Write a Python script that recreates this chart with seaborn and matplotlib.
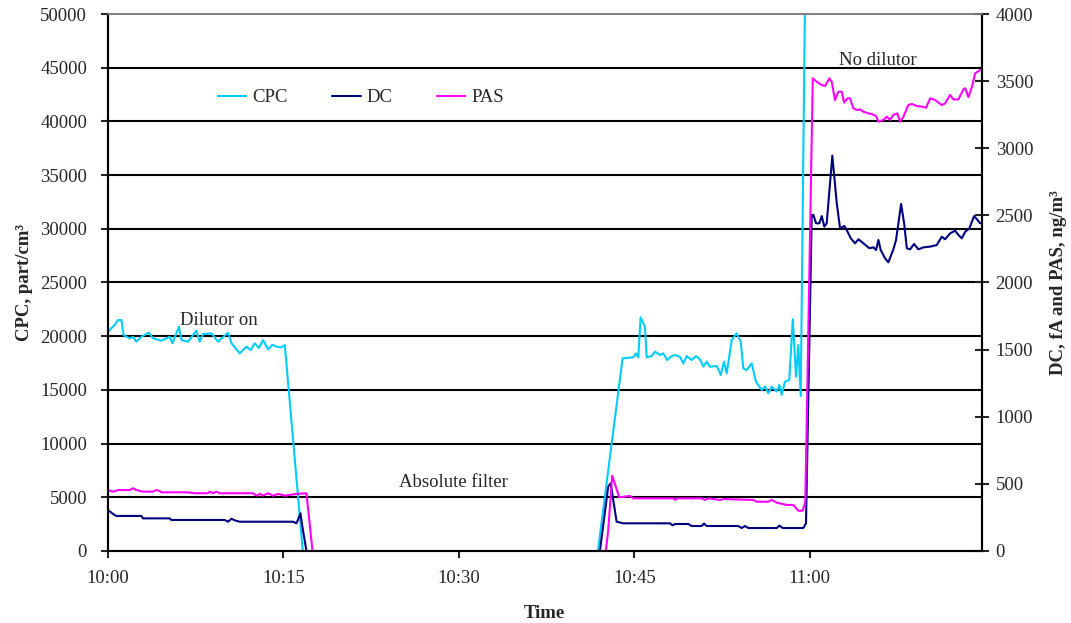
import matplotlib
matplotlib.use("Agg")
import matplotlib.pyplot as plt
import seaborn as sns
import pandas as pd

# ---- measurement data (time in minutes after 10:00) ----
cpc_t_a = [0, 0.57, 0.86, 1.15, 1.34, 1.86, 2.14, 2.43, 2.86, 3.51, 3.85, 4.57, 5.28, 5.51,
           6.07, 6.28, 6.84, 7.56, 7.84, 8.13, 8.85, 9.41, 10.27, 10.56, 11.27, 11.84,
           12.2, 12.55, 12.9, 13.26, 13.69, 14.05, 14.41, 14.8, 15.12, 16.66]
cpc_v_a = [20420, 21040, 21500, 21500, 20100, 19800, 19950, 19490, 19950, 20330, 19800,
           19580, 19950, 19340, 20880, 19640, 19490, 20510, 19490, 20200, 20260, 19490,
           20330, 19340, 18400, 19030, 18700, 19340, 18900, 19640, 18770, 19200, 19030,
           18950, 19180, 0]
cpc_t_b = [41.89, 44.0, 44.91, 45.14, 45.34, 45.54, 45.91, 46.06, 46.48, 46.77, 47.2, 47.48,
           47.82, 48.11, 48.48, 48.9, 49.19, 49.48, 49.9, 50.27, 50.62, 50.9, 51.19, 51.47,
           52.05, 52.39, 52.67, 52.9, 53.33, 53.75, 54.1, 54.32, 54.61, 55.04, 55.4, 55.89,
           56.18, 56.46, 56.75, 57.18, 57.4, 57.6, 57.89, 58.25, 58.55, 58.83, 59.02, 59.23,
           59.6, 60.0, 74.7]
cpc_v_b = [0, 17940, 18030, 18400, 18030, 21760, 20880, 18030, 18150, 18560, 18250, 18400,
           17780, 18090, 18250, 18090, 17470, 18150, 17780, 18150, 17840, 17160, 17630, 17160,
           17220, 16390, 17630, 16540, 19640, 20260, 19490, 17000, 16850, 17470, 15760, 14990,
           15300, 14680, 15300, 14840, 15460, 14530, 15770, 15920, 21570, 16230, 19180, 14430,
           52000, 60000, 60000]

dc_t_a = [0, 0.43, 0.71, 1.15, 2.86, 2.99, 5.28, 5.42, 9.98, 10.27, 10.56, 10.84, 11.27,
          15.83, 16.12, 16.46, 16.6, 16.97]
dc_v_a = [305, 276, 261, 261, 261, 243, 243, 231, 231, 218, 240, 228, 218, 218, 206, 281, 194, 0]
dc_t_b = [42.06, 42.77, 42.98, 43.49, 44.06, 48.05, 48.28, 48.48, 49.62, 49.9, 50.76, 50.96,
          51.19, 53.89, 54.18, 54.47, 54.75, 57.18, 57.4, 57.69, 59.45, 59.68, 60.17, 60.31,
          60.54, 60.82, 61.03, 61.25, 61.45, 61.93, 62.31, 62.59, 62.96, 63.16, 63.51, 63.87,
          64.16, 64.59, 65.1, 65.44, 65.67, 65.87, 66.07, 66.44, 66.72, 67.15, 67.38, 67.81,
          68.07, 68.3, 68.58, 68.92, 69.29, 69.72, 70.29, 70.86, 71.29, 71.57, 72.0, 72.43,
          72.71, 73.0, 73.29, 73.65, 74.05, 74.34, 74.57]
dc_v_b = [0, 479, 504, 218, 206, 206, 191, 201, 201, 186, 186, 204, 186, 186, 171, 186, 171,
          171, 189, 171, 171, 206, 2503, 2503, 2441, 2441, 2495, 2416, 2441, 2945, 2590, 2404,
          2421, 2391, 2329, 2292, 2322, 2292, 2255, 2262, 2242, 2317, 2242, 2180, 2150, 2247,
          2317, 2585, 2441, 2255, 2247, 2287, 2247, 2262, 2267, 2279, 2341, 2322, 2366, 2386,
          2354, 2329, 2378, 2404, 2495, 2466, 2441]

pas_t_a = [0, 0.43, 0.86, 1.86, 2.14, 2.43, 2.99, 3.85, 4.14, 4.42, 4.57, 6.84, 7.42, 8.55,
           8.7, 8.98, 9.27, 9.56, 12.4, 12.69, 12.98, 13.26, 13.69, 14.11, 14.54, 15.12,
           16.12, 16.97, 17.49]
pas_v_a = [454, 442, 454, 454, 467, 454, 442, 442, 454, 447, 437, 437, 430, 430, 442, 430,
           442, 430, 430, 412, 425, 412, 430, 412, 425, 412, 425, 430, 0]
pas_t_b = [42.57, 42.77, 43.11, 43.71, 44.63, 44.91, 48.33, 48.48, 48.62, 50.76, 51.04, 51.33,
           52.33, 52.61, 55.18, 55.47, 56.46, 56.75, 57.18, 58.03, 58.6, 59.02, 59.4, 59.62,
           60.26, 60.6, 61.03, 61.31, 61.68, 61.88, 62.16, 62.45, 62.74, 62.94, 63.22, 63.45,
           63.73, 64.02, 64.3, 64.59, 65.01, 65.3, 65.67, 65.87, 66.3, 66.59, 66.87, 67.15,
           67.49, 67.72, 68.01, 68.43, 68.73, 69.15, 69.58, 69.95, 70.29, 70.72, 71.29, 71.57,
           72.0, 72.28, 72.71, 73.14, 73.29, 73.57, 73.86, 74.14, 74.57]
pas_v_b = [0, 156, 561, 400, 410, 392, 392, 380, 392, 392, 380, 392, 380, 387, 380, 367, 367,
           380, 360, 343, 343, 300, 300, 367, 3521, 3496, 3471, 3464, 3521, 3496, 3359, 3421,
           3421, 3340, 3372, 3372, 3298, 3285, 3290, 3272, 3260, 3255, 3240, 3198, 3211, 3235,
           3211, 3248, 3260, 3198, 3235, 3322, 3330, 3315, 3310, 3302, 3372, 3359, 3322, 3334,
           3397, 3364, 3364, 3439, 3447, 3381, 3456, 3558, 3583]

series_names = ["CPC", "DC", "PAS"]
series_colors = ["#00CCFF", "#000080", "#FF00FF"]
time_ticks = [0, 15, 30, 45, 60]
time_labels = ["10:00", "10:15", "10:30", "10:45", "11:00"]


def segments(*pairs):
    frames = []
    for i, (t, v) in enumerate(pairs):
        frames.append(pd.DataFrame({"t": t, "v": v, "seg": i}))
    return pd.concat(frames, ignore_index=True)


cpc = segments((cpc_t_a, cpc_v_a), (cpc_t_b, cpc_v_b))
dc = segments((dc_t_a, dc_v_a), (dc_t_b, dc_v_b))
pas = segments((pas_t_a, pas_v_a), (pas_t_b, pas_v_b))

sns.set_style("ticks")
plt.rcParams["font.family"] = ["Liberation Serif", "DejaVu Serif"]
plt.rcParams["font.size"] = 13.5

fig = plt.figure(figsize=(10.71, 6.23), dpi=100)
ax = fig.add_axes([0.1008, 0.1156, 0.8158, 0.8619])
ax2 = ax.twinx()

lw = 1.5
sns.lineplot(data=cpc, x="t", y="v", units="seg", estimator=None, ax=ax,
             color=series_colors[0], lw=lw, sort=False)
sns.lineplot(data=dc, x="t", y="v", units="seg", estimator=None, ax=ax2,
             color=series_colors[1], lw=lw, sort=False)
sns.lineplot(data=pas, x="t", y="v", units="seg", estimator=None, ax=ax2,
             color=series_colors[2], lw=lw, sort=False)

ax.set_xlim(0, 74.7)
ax.set_ylim(0, 50000)
ax2.set_ylim(0, 4000)
ax.set_yticks(range(0, 50001, 5000))
ax2.set_yticks(range(0, 4001, 500))
ax.set_xticks(time_ticks)
ax.set_xticklabels(time_labels)

# horizontal grid on the primary scale
ax.set_axisbelow(True)
ax.yaxis.grid(True, color="black", lw=1.5)
gl = ax.get_ygridlines()
gl[0].set_visible(False)
gl[-1].set_visible(False)

for a in (ax, ax2):
    a.spines["top"].set_color("#808080")
    a.spines["top"].set_linewidth(1.2)
    for s in ("left", "right", "bottom"):
        a.spines[s].set_color("black")
        a.spines[s].set_linewidth(1.5)

ax.tick_params(axis="y", direction="out", length=5, width=1.5, pad=10, labelsize=13.5)
ax.tick_params(axis="x", direction="out", length=5, width=1.5, pad=9, labelsize=13.5)
ax2.tick_params(axis="y", direction="inout", length=10, width=1.5, pad=5, labelsize=13.5)

ax.set_xlabel("Time", fontweight="bold", fontsize=13.5, labelpad=13)
ax.set_ylabel("CPC, part/cm³", fontweight="bold", fontsize=13.5, labelpad=5)
ax2.set_ylabel("DC, fA and PAS, ng/m³", fontweight="bold", fontsize=13.5, labelpad=12)

ax.text(9.47, 21500, "Dilutor on", ha="center", va="center", fontsize=13.5)
ax.text(29.57, 6420, "Absolute filter", ha="center", va="center", fontsize=13.5)
ax.text(65.84, 45700, "No dilutor", ha="center", va="center", fontsize=13.5)

handles = [plt.Line2D([], [], color=c, lw=lw) for c in series_colors]
fig.legend(handles, series_names, loc="center", bbox_to_anchor=(0.337, 0.843), ncol=3,
           frameon=False, handlelength=1.5, handletextpad=0.3, columnspacing=2.4,
           fontsize=13.5)

fig.savefig("out.png", dpi=100)
